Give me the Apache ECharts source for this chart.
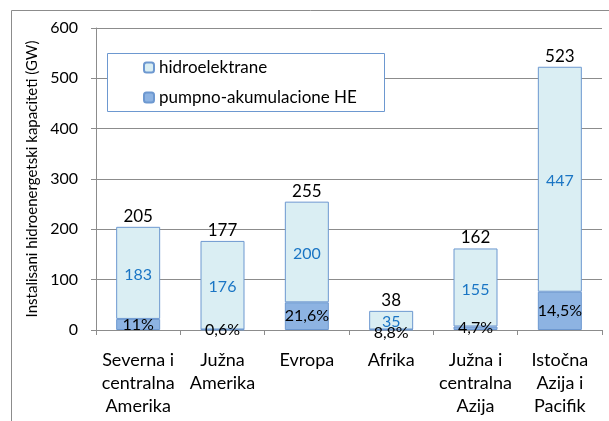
<!DOCTYPE html>
<html>
<head>
    <meta charset="utf-8">
    <title>Hidroelektrane</title>
    <script src="https://cdn.jsdelivr.net/npm/echarts@6/dist/echarts.min.js"></script>
    <style>
        html, body { margin: 0; padding: 0; background: #fff; }
        #chart { width: 609px; height: 421px; }
    </style>
</head>
<body>
    <div id="chart"></div>
    <script type="text/javascript">
        // data
        const regions = ['Severna i\ncentralna\nAmerika', 'Južna\nAmerika', 'Evropa', 'Afrika', 'Južna i\ncentralna\nAzija', 'Istočna\nAzija i\nPacifik'];
        const totals = [205, 177, 255, 38, 162, 523];
        const pumped = [22, 1, 55, 1, 7, 76];
        const hydroLabels = ['183', '176', '200', '35', '155', '447'];
        const pumpedLabels = ['11%', '0,6%', '21,6%', '8,8%', '4,7%', '14,5%'];
        const yTicks = [0, 100, 200, 300, 400, 500, 600];

        const FONT = 'Lato';
        const hydro = totals.map((t, i) => t - pumped[i]);

        let myChart = echarts.init(document.getElementById('chart'));
        let option = {
            animation: false,
            textStyle: { fontFamily: FONT, color: '#000' },
            graphic: [{
                type: 'rect',
                shape: { x: 11.5, y: 10.5, width: 610, height: 420 },
                style: { fill: 'none', stroke: '#8c8c8c', lineWidth: 1 },
                silent: true
            }, {
                type: 'rect',
                shape: { x: 107.5, y: 53.5, width: 277, height: 58 },
                style: { fill: '#fff', stroke: '#6d98d0', lineWidth: 1 },
                z: 5,
                silent: true
            }],
            legend: {
                orient: 'vertical',
                left: 138,
                top: 54,
                z: 6,
                itemWidth: 10,
                itemHeight: 10,
                itemGap: 13,
                textStyle: { fontFamily: FONT, fontSize: 17, color: '#000' },
                data: ['hidroelektrane', 'pumpno-akumulacione HE']
            },
            grid: { left: 96, right: 7, top: 28, bottom: 91 },
            xAxis: {
                type: 'category',
                data: regions,
                axisLine: { lineStyle: { color: '#8c8c8c' } },
                axisTick: { show: true, length: 5, alignWithLabel: false, lineStyle: { color: '#8c8c8c' } },
                axisLabel: { fontFamily: FONT, fontSize: 18, color: '#000', lineHeight: 23, margin: 19, interval: 0 }
            },
            yAxis: {
                type: 'value',
                min: 0,
                max: 600,
                interval: 100,
                name: 'Instalisani hidroenergetski kapaciteti (GW)',
                nameLocation: 'middle',
                nameGap: 56,
                nameTextStyle: { fontFamily: FONT, fontSize: 15, color: '#000' },
                axisLine: { show: true, lineStyle: { color: '#8c8c8c' } },
                axisTick: { show: true, length: 5, lineStyle: { color: '#8c8c8c' } },
                axisLabel: { fontFamily: FONT, fontSize: 16, color: '#000', margin: 18, formatter: v => yTicks.includes(v) ? String(v) : '' },
                splitLine: { lineStyle: { color: '#8c8c8c' } }
            },
            series: [{
                name: 'pumpno-akumulacione HE',
                type: 'bar',
                stack: 'total',
                barWidth: 44,
                data: pumped,
                itemStyle: { color: '#8db3e2', borderColor: '#6d98d0', borderWidth: 1 },
                label: {
                    show: true,
                    position: 'inside',
                    offset: [0, 3],
                    fontFamily: FONT,
                    fontSize: 16,
                    color: '#000',
                    formatter: p => pumpedLabels[p.dataIndex]
                },
                labelLayout: p => p.dataIndex === 3 ? { dy: 3 } : {}
            }, {
                name: 'hidroelektrane',
                type: 'bar',
                stack: 'total',
                barWidth: 44,
                data: hydro,
                itemStyle: { color: '#daeef3', borderColor: '#6d98d0', borderWidth: 1 },
                label: {
                    show: true,
                    position: 'inside',
                    offset: [0, 2],
                    fontFamily: FONT,
                    fontSize: 16,
                    color: '#1a75c4',
                    formatter: p => hydroLabels[p.dataIndex]
                }
            }, {
                // zero-height cap that carries the total above each stack
                name: 'ukupno',
                type: 'bar',
                stack: 'total',
                barWidth: 44,
                data: totals.map(() => 0),
                itemStyle: { color: 'rgba(0,0,0,0)', borderWidth: 0 },
                label: {
                    show: true,
                    position: 'top',
                    distance: 2,
                    fontFamily: FONT,
                    fontSize: 17,
                    color: '#000',
                    formatter: p => String(totals[p.dataIndex])
                },
                silent: true
            }]
        };

        myChart.setOption(option);
    </script>
</body>
</html>
